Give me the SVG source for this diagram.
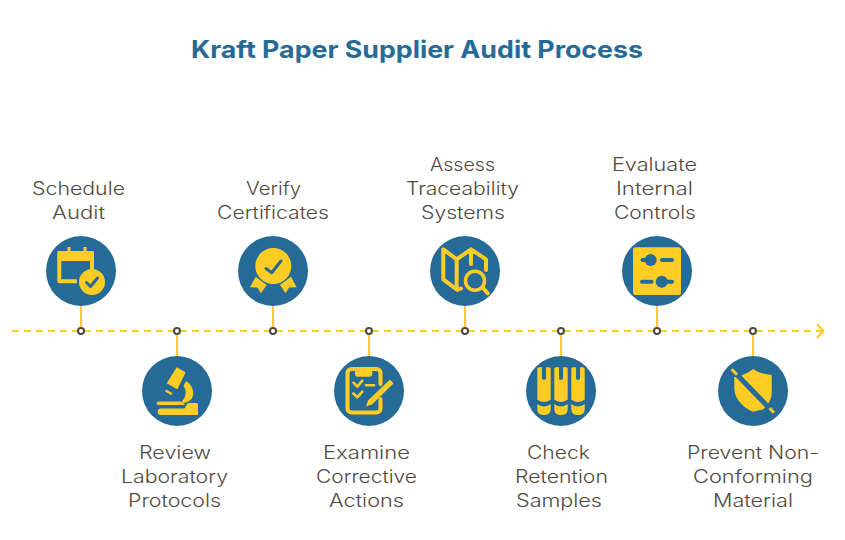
<svg xmlns="http://www.w3.org/2000/svg" xmlns:xlink="http://www.w3.org/1999/xlink" width="845" height="540" viewBox="0 0 845 540">
<style>
text{font-family:"Inter","Open Sans","Liberation Sans",sans-serif;text-anchor:middle}
.t{font-size:24px;font-weight:700;fill:#266a98}
.l{font-size:18px;font-weight:300;fill:#4f4a3f}
.c{fill:#266a98}
.y{fill:#fdcd26}
.s{fill:none;stroke:#fdcd26;stroke-width:4;stroke-linecap:round;stroke-linejoin:round}
.b{fill:none;stroke:#266a98;stroke-linecap:round;stroke-linejoin:round}
.stem{stroke:#fdcd26;stroke-width:2}
.dot{fill:#fff;stroke:#4f4a3f;stroke-width:2}
</style>
<defs>
<path id="tube" class="y" d="M537.3 369a1.7 1.7 0 0 1 1.7-1.7H542V378a2 2 0 0 0 4 0V367.3H549a1.7 1.7 0 0 1 1.7 1.7V399.5Q544 404.5 537.3 399.5ZM537.3 404Q544 409 550.7 404V409Q550.7 415 544 415Q537.3 415 537.3 409Z"/>
</defs>
<rect width="845" height="540" fill="#fff"/>
<text class="t" x="417" y="58" textLength="452" lengthAdjust="spacingAndGlyphs">Kraft Paper Supplier Audit Process</text>
<g id="connectors">
<path d="M12 331H822" fill="none" stroke="#fdcd26" stroke-width="2.2" stroke-dasharray="7 5"/>
<path d="M817 324.3L823.5 331L817 337.7" fill="none" stroke="#fdcd26" stroke-width="2.2"/>
<path class="stem" d="M81 306V331M177 331V356M273 306V331M369 331V356M465 306V331M561 331V356M657 306V331M753 331V356"/>
<g class="dot"><circle cx="81" cy="331" r="3"/><circle cx="177" cy="331" r="3"/><circle cx="273" cy="331" r="3"/><circle cx="369" cy="331" r="3"/><circle cx="465" cy="331" r="3"/><circle cx="561" cy="331" r="3"/><circle cx="657" cy="331" r="3"/><circle cx="753" cy="331" r="3"/></g>
</g>
<g id="node1">
<circle class="c" cx="81" cy="271" r="35"/>
<path class="y" d="M67.5 247h3v4h13v-4h3v4H93a1 1 0 0 1 1 1V272H90V261H61.3V279.3H77V283.3H59a1.7 1.7 0 0 1-1.7-1.700V252a1 1 0 0 1 1-1H67.5Z"/>
<circle class="y" cx="92" cy="282" r="13"/>
<path class="b" stroke-width="3" d="M86.5 282.5L90.5 286.5L97.5 278"/>
<text class="l" x="78.5" y="195" textLength="93" lengthAdjust="spacingAndGlyphs">Schedule</text>
<text class="l" x="78.5" y="219" textLength="53" lengthAdjust="spacingAndGlyphs">Audit</text>
</g>
<g id="node2">
<circle class="c" cx="177" cy="391" r="35"/>
<path class="y" d="M176.7 367.3L185.7 372.3L177.3 389.3L166.7 383.3Z"/>
<path class="y" d="M166 389.5L172.5 393L171 395L165 391.5Z"/>
<path class="y" d="M186 381C196 387 195 400 187 402L183 403.5L182 401C186 398 187 390 183.5 386Z"/>
<path class="y" d="M158.5 401.5H181L185 405H158.5a1.700 1.700 0 0 1 0-3.500Z"/>
<path class="y" d="M161 408.5H184C186 408.500 186 403 189 403H196a2 2 0 0 1 2 2V415H161a3.200 3.200 0 0 1 0-6.500Z"/>
<text class="l" x="175" y="459" textLength="72" lengthAdjust="spacingAndGlyphs">Review</text>
<text class="l" x="174.5" y="483" textLength="107" lengthAdjust="spacingAndGlyphs">Laboratory</text>
<text class="l" x="174.5" y="507" textLength="93" lengthAdjust="spacingAndGlyphs">Protocols</text>
</g>
<g id="node3">
<circle class="c" cx="273" cy="271" r="35"/>
<circle class="y" cx="273.3" cy="266" r="18"/>
<path class="b" stroke-width="3" d="M266 268.500L271.700 272.700L281 261"/>
<path class="y" d="M255.7 276.7L250 287.3L257.5 287.5L261 293.3L266.7 285Z"/>
<path class="y" d="M291 276.7L296.6 287.3L289 287.5L285.6 293.3L280 285Z"/>
<text class="l" x="273.5" y="195" textLength="55" lengthAdjust="spacingAndGlyphs">Verify</text>
<text class="l" x="273" y="219" textLength="112" lengthAdjust="spacingAndGlyphs">Certificates</text>
</g>
<g id="node4">
<circle class="c" cx="369" cy="391" r="35"/>
<path class="s" d="M380.5 384V373a4 4 0 0 0-4-4H351.5a4 4 0 0 0-4 4V408.5a4 4 0 0 0 4 4H376.5a4 4 0 0 0 4-4V399"/>
<path class="y" d="M355 368H372.3V374a2.700 2.700 0 0 1-2.700 2.700H357.700a2.700 2.700 0 0 1-2.700-2.700Z"/>
<path class="s" style="stroke-width:2.6" d="M353.5 382.7L357.3 386.7L362.3 380.7M353.5 393.5L357.3 397.3L362.3 391.7M366 385.3H374"/>
<path class="y" d="M390 379.5L393.5 383.5L372 404.5L366 406.5L368 400.5Z"/>
<text class="l" x="366.5" y="459" textLength="87" lengthAdjust="spacingAndGlyphs">Examine</text>
<text class="l" x="366.5" y="483" textLength="101" lengthAdjust="spacingAndGlyphs">Corrective</text>
<text class="l" x="366.5" y="507" textLength="75" lengthAdjust="spacingAndGlyphs">Actions</text>
</g>
<g id="node5">
<circle class="c" cx="465" cy="271" r="35"/>
<path class="s" d="M486 270V259.3L471 249.3L456.7 259.3L443.3 249.3V279.3L457.3 290L461 288.5M456.700 259.3V288M471 249.3V264"/>
<circle cx="475" cy="280.7" r="9.5" fill="#266a98" stroke="#fdcd26" stroke-width="3.6"/>
<path class="s" d="M483.3 288.3L487.7 293.3"/>
<text class="l" x="462.5" y="171" textLength="65" lengthAdjust="spacingAndGlyphs">Assess</text>
<text class="l" x="462.5" y="195" textLength="113" lengthAdjust="spacingAndGlyphs">Traceability</text>
<text class="l" x="463" y="219" textLength="84" lengthAdjust="spacingAndGlyphs">Systems</text>
</g>
<g id="node6">
<circle class="c" cx="561" cy="391" r="35"/>
<use href="#tube"/>
<use href="#tube" x="17"/>
<use href="#tube" x="34"/>
<text class="l" x="558.5" y="459" textLength="63" lengthAdjust="spacingAndGlyphs">Check</text>
<text class="l" x="561.5" y="483" textLength="93" lengthAdjust="spacingAndGlyphs">Retention</text>
<text class="l" x="559" y="507" textLength="86" lengthAdjust="spacingAndGlyphs">Samples</text>
</g>
<g id="node7">
<circle class="c" cx="657" cy="271" r="35"/>
<rect class="y" x="633" y="247.3" width="48" height="47.7" rx="2.5"/>
<circle class="c" cx="650.7" cy="260" r="6"/>
<circle class="c" cx="661.7" cy="281.7" r="6"/>
<path class="b" stroke-width="4" d="M642.5 260H650M662 260H672M642 281.7H651.5M662 281.7H672"/>
<text class="l" x="654.5" y="171" textLength="85" lengthAdjust="spacingAndGlyphs">Evaluate</text>
<text class="l" x="654.5" y="195" textLength="77" lengthAdjust="spacingAndGlyphs">Internal</text>
<text class="l" x="655" y="219" textLength="82" lengthAdjust="spacingAndGlyphs">Controls</text>
</g>
<g id="node8">
<circle class="c" cx="753" cy="391" r="35"/>
<path class="y" d="M753.3 369C758 372.5 764 374.5 771.7 375V393C771.7 399 768 405 763 409.500C760 410 756 411 752.7 411.700C742 407 734.3 398 734.3 388V377C741 376.500 748 373 753.3 369Z"/>
<path class="b" stroke-width="5" style="stroke-linecap:butt" d="M731 368.500L773 412"/>
<path class="s" style="stroke-width:3;stroke-linecap:butt" d="M731.7 369.300L737 374.800M769.500 408L774 412.700"/>
<text class="l" x="753" y="459" textLength="132" lengthAdjust="spacingAndGlyphs">Prevent Non-</text>
<text class="l" x="753" y="483" textLength="120" lengthAdjust="spacingAndGlyphs">Conforming</text>
<text class="l" x="753" y="507" textLength="80" lengthAdjust="spacingAndGlyphs">Material</text>
</g>
</svg>
